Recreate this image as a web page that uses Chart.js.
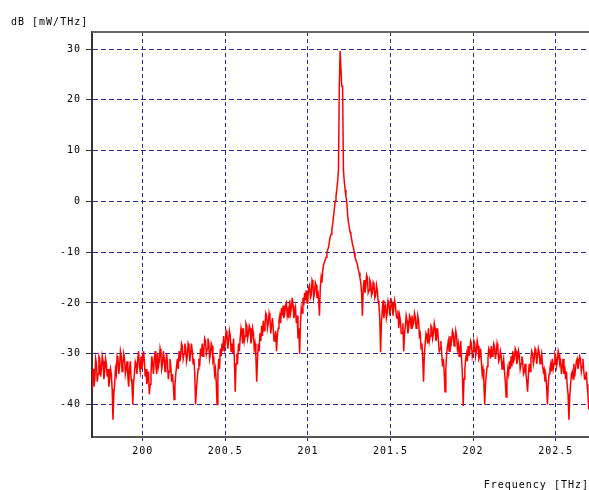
<!DOCTYPE html>
<html>
<head>
<meta charset="utf-8">
<script src="https://cdn.jsdelivr.net/npm/chart.js@4.4.1/dist/chart.umd.min.js"></script>
<style>
  html, body { margin: 0; padding: 0; background: #ffffff; }
  #wrap { width: 589px; height: 490px; }
</style>
</head>
<body>
<div id="wrap"><canvas id="spectrum" width="589" height="490"></canvas></div>
<script>
// Optical spectrum sampled on a uniform 0.005 THz frequency grid
const freqStart = 199.69;   // THz, first sample
const freqStep = 0.005;     // THz between samples

// Power spectral density, dB [mW/THz]; each row covers 0.1 THz
const powerDb = [
  -38, -34.5, -33, -36.5, -35, -31, -32, -35.5, -34, -30.5, -31, -34.5, -33, -30.5, -31.5, -35, -33.5, -31, -32, -34.5,
  -33, -36.5, -35, -33, -34, -37, -43, -38, -36, -33, -34, -30.5, -31, -34, -32.5, -29.5, -30.5, -33.5, -32, -30,
  -31, -34, -33, -31.5, -34.5, -36.5, -33, -31.5, -35, -36, -40, -35.5, -34, -31.5, -32, -34, -31, -29.5, -32.5, -33.5,
  -30.5, -33, -31.5, -29.5, -31.5, -34.5, -33, -36, -35, -33.5, -38, -36, -34, -30.5, -32, -34, -31, -29.5, -32.5, -34,
  -30, -32.5, -31.5, -29, -30, -33, -32, -29.5, -31, -33.5, -31.5, -30, -32, -35, -33.5, -31, -32.5, -35.5, -34, -36,
  -39, -36.5, -34, -32.5, -31, -33, -29.5, -31.5, -30.5, -28, -28.5, -31, -30, -28, -29, -31.5, -30.5, -28, -28.5, -31.5,
  -30, -28, -29.5, -32, -31, -34, -40, -37, -35, -33, -31, -32.5, -29, -30.5, -28, -30.5, -29.5, -27, -27.5, -30,
  -29, -27, -28, -31, -30, -28, -28.5, -31.5, -31, -34, -33, -35.5, -40, -34, -31, -33, -29, -30.5, -28, -29.5,
  -26.5, -29, -28, -25.5, -26, -29, -27.5, -25.5, -26.5, -29.5, -28, -30, -27, -31.5, -37.5, -32, -30, -31, -28, -29.5,
  -27, -25, -26, -28, -25, -27.5, -26.5, -24, -24.5, -27, -26, -24.5, -25, -28, -27, -25, -26, -29, -28, -30.5,
  -35.5, -31, -28, -29.5, -26, -27.5, -24.5, -26.5, -23.5, -25.5, -24.5, -22, -22.5, -25, -24, -22, -23, -26, -24.5, -23,
  -25, -27.5, -27, -25.5, -29.5, -26.5, -25, -23.5, -22.5, -24, -21, -22.5, -20.5, -23, -22, -20.5, -20, -22.5, -21.5, -23,
  -19.5, -22, -21, -19, -20.5, -23, -22, -21, -24, -22.5, -27, -25, -30, -24, -21, -22, -19, -20.5, -18, -19.5,
  -17.5, -20, -19, -17, -16.5, -19, -18.5, -15.5, -16, -19, -18, -16, -16.5, -19, -17.5, -19.5, -22.5, -17, -15, -16,
  -13.5, -12.5, -12, -11.5, -11, -10, -9.5, -9, -8, -7, -6.5, -5.5, -4.5, -3, -1.5, 0, 1, 2.3, 4, 6.2,
  22.6, 29.6, 29.6, 22.6, 22.6, 6.2, 4, 2.3, 1, 0, -2.5, -4, -5, -6, -6.5, -7.5, -8.5, -9, -10, -11,
  -11.5, -12, -12.5, -13.5, -14, -15, -16, -18, -22.5, -17, -15.5, -18, -17, -14.5, -15, -18, -17.5, -15.5, -16, -18.5,
  -18, -16, -16.5, -19, -18.5, -16.5, -17.5, -19.5, -20.5, -23, -29.7, -24, -21.5, -19.5, -23, -21, -20.5, -23, -22, -19.5,
  -20, -22, -21.5, -19.5, -20, -22.5, -21, -19.5, -20.5, -22.5, -23, -21.5, -25, -22.5, -23.5, -26, -26, -24, -29.5, -26,
  -24.5, -22.5, -23.5, -26, -25, -22.5, -23, -25, -22.5, -24.5, -24, -22, -22.8, -25, -24.5, -22.5, -23.5, -26.5, -26, -29,
  -28, -31, -35.5, -30, -28, -26, -26.5, -28, -25, -27.5, -26.5, -24.5, -24.8, -27, -26, -24, -25, -27.5, -26.5, -25,
  -27.5, -29.5, -29, -27.5, -30, -32.5, -31, -33.5, -37.5, -33, -30, -28.5, -27.5, -29.5, -26.5, -28.5, -27.5, -25.5, -26, -28.5,
  -27.5, -25.5, -26.5, -29, -28, -30.5, -29, -27.5, -31, -34, -40.3, -35, -33, -31, -30, -31.5, -28.5, -30.5, -29.5, -27.5,
  -28, -30.5, -29.5, -27.5, -28, -30.5, -29.5, -27.5, -28.5, -31, -30.5, -29, -31.5, -34, -33, -35.5, -40, -36, -34, -32.5,
  -31, -29, -29.5, -31, -28.5, -30.5, -30, -28, -28.5, -31, -29.8, -28, -29, -31.5, -31, -29.5, -30.5, -33, -32, -31,
  -33.5, -35.5, -38.5, -35, -33, -34, -31.5, -33, -30.5, -32.5, -29.5, -31.5, -31, -29, -29.5, -32, -31, -29.5, -30.5, -33,
  -32, -30.5, -31.5, -34, -33.5, -32, -34, -35.5, -37.5, -34, -32, -33.5, -31, -29.5, -30, -32, -31, -29, -29.5, -32,
  -30.5, -29, -29.8, -32, -31, -30, -32, -33.5, -33, -35.5, -34.5, -36.5, -40, -36, -34, -33, -32, -33.5, -31, -33,
  -32, -30, -30.5, -32.5, -31.5, -29.5, -30.2, -32, -31.5, -34, -32.5, -31, -34, -32.5, -35, -33.5, -36.5, -38, -43, -38.5,
  -36, -34, -33.5, -35, -32, -34.5, -33, -31.5, -31, -33, -32, -30.5, -31, -33.5, -32.5, -31, -33.5, -35, -35, -33.5,
  -36, -38, -41
];

// Axis ticks and captions
const xTickValues = [200, 200.5, 201, 201.5, 202, 202.5];
const yTickValues = [-40, -30, -20, -10, 0, 10, 20, 30];
const yAxisCaption = 'dB [mW/THz]';
const xAxisCaption = 'Frequency [THz]';

const points = powerDb.map((v, i) => ({ x: +(freqStart + i * freqStep).toFixed(4), y: v }));

const monoFont = '"DejaVu Sans Mono", "Liberation Mono", monospace';
const gridColor = '#2a2a9c';

// Monospaced text with a little extra tracking, plus the top frame line
const framePlugin = {
  id: 'frame',
  beforeDraw(chart) {
    chart.ctx.letterSpacing = '1px';
  },
  afterDraw(chart) {
    const { ctx, chartArea } = chart;
    ctx.save();
    ctx.strokeStyle = '#666666';
    ctx.lineWidth = 2;
    ctx.beginPath();
    ctx.moveTo(chartArea.left, chartArea.top);
    ctx.lineTo(chartArea.right, chartArea.top);
    ctx.stroke();

    ctx.letterSpacing = '1px';
    ctx.fillStyle = '#000000';
    ctx.font = '10px ' + monoFont;
    ctx.textBaseline = 'alphabetic';
    ctx.textAlign = 'left';
    ctx.fillText(yAxisCaption, 11, 25);
    ctx.textAlign = 'right';
    ctx.fillText(xAxisCaption, 589, 488);
    ctx.restore();
  }
};

new Chart(document.getElementById('spectrum'), {
  type: 'line',
  data: {
    datasets: [{
      data: points,
      borderColor: '#ff0000',
      borderWidth: 1.5,
      pointRadius: 0,
      tension: 0,
      fill: false
    }]
  },
  options: {
    responsive: false,
    animation: false,
    devicePixelRatio: 1,
    layout: { padding: { top: 32, left: 0, right: 0, bottom: 0 } },
    plugins: { legend: { display: false }, tooltip: { enabled: false } },
    scales: {
      x: {
        type: 'linear',
        min: 199.693,
        max: 202.7016,
        afterBuildTicks(scale) { scale.ticks = xTickValues.map(v => ({ value: v })); },
        afterFit(scale) { scale.height = 53; },
        grid: {
          color: gridColor,
          lineWidth: 1,
          tickLength: 5,
          tickColor: gridColor,
          tickBorderDash: [3, 2]
        },
        border: { display: true, color: '#555555', width: 2, dash: [4, 3] },
        ticks: {
          color: '#000000',
          font: { family: monoFont, size: 10 },
          padding: 3,
          maxRotation: 0,
          autoSkip: false,
          callback: v => String(v)
        }
      },
      y: {
        type: 'linear',
        min: -46.4,
        max: 33.35,
        afterBuildTicks(scale) { scale.ticks = yTickValues.map(v => ({ value: v })); },
        afterFit(scale) { scale.width = 92; },
        grid: {
          color: gridColor,
          lineWidth: 1,
          tickLength: 6,
          tickColor: '#333333',
          tickBorderDash: []
        },
        border: { display: true, color: '#333333', width: 2, dash: [5, 3] },
        ticks: {
          color: '#000000',
          font: { family: monoFont, size: 10 },
          padding: 5,
          autoSkip: false,
          callback: v => String(v)
        }
      }
    }
  },
  plugins: [framePlugin]
});
</script>
</body>
</html>
